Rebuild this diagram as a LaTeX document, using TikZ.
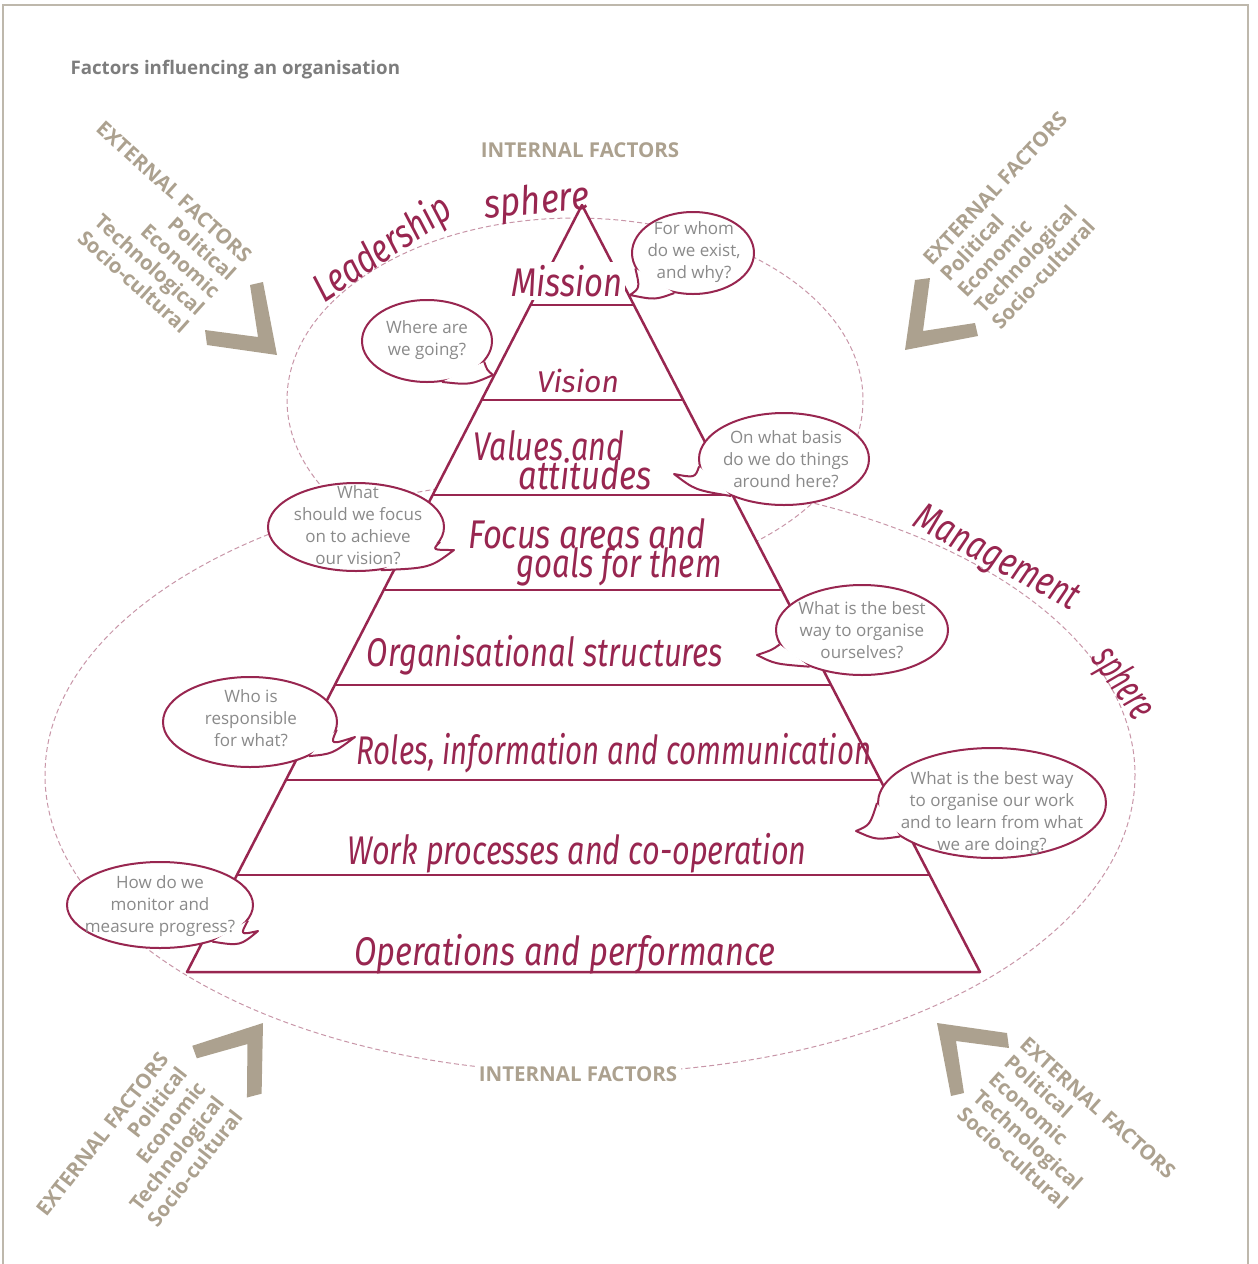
\documentclass[tikz,border=0pt]{standalone}
\usepackage{fontspec}
\setmainfont{Open Sans}
\newfontfamily\handfont{Fira Sans}
\usetikzlibrary{calc, shapes.geometric}

\definecolor{wine}{RGB}{152,38,80}
\definecolor{sand}{RGB}{172,161,143}
\definecolor{qgray}{RGB}{138,138,138}
\definecolor{titlegray}{RGB}{125,125,125}
\definecolor{framegray}{RGB}{190,184,172}
\definecolor{spherepink}{RGB}{200,150,168}

\tikzset{
  chevron/.pic={
    \fill[sand] (0,0) -- (-14,-73) -- (-27,-70) -- (-19,-18) -- (-72,-25) -- (-70,-10) -- cycle;
  }
}

\begin{document}
\begin{tikzpicture}[x=1pt, y=-1pt,
    hand/.style={text=wine, font=\handfont\itshape\fontsize{40}{42}\selectfont, inner sep=1pt},
    question/.style={text=qgray, font=\fontsize{17}{22}\selectfont, align=center, inner sep=0pt},
    bubble/.style={ellipse, draw=wine, line width=2pt, fill=white, inner sep=0pt},
    tail/.style={draw=wine, line width=2pt, line join=round},
    extern/.style={text=sand, font=\bfseries\fontsize{20.5}{23.5}\selectfont, inner sep=0pt},
    spherering/.style={spherepink, line width=1pt, dash pattern=on 5pt off 3pt},
    tier/.style={wine, line width=2.5pt}]

  \useasboundingbox (0,0) rectangle (1258,1264);
  \draw[framegray, line width=1.2pt] (3,1264) -- (3,5) -- (1248,5) -- (1248,1264);

  \node[anchor=west, text=titlegray, font=\bfseries\fontsize{18.7}{22}\selectfont] (title) at (67,70) {Factors influencing an organisation};

  % the two spheres
  \draw[spherering] (575,400) ellipse [x radius=288, y radius=182];
  \draw[spherering] (590,775) ellipse [x radius=545, y radius=298];

  % pyramid
  \coordinate (apex) at (582,205);
  \coordinate (baseL) at (187,972);
  \coordinate (baseR) at (980,972);
  \filldraw[fill=white, draw=wine, line width=2.5pt, line join=round] (apex) -- (baseR) -- (baseL) -- cycle;
  \foreach \yy in {305,400,495,590,685,780,875}
    \draw[tier] ($(apex)!{(\yy-205)/767}!(baseL)$) -- ($(apex)!{(\yy-205)/767}!(baseR)$);

  \node[hand, fill=white, inner sep=3pt, xscale=0.82] (mission) at (567,281) {Mission};
  \node[hand, font=\handfont\itshape\fontsize{30}{32}\selectfont] (vision) at (578,381) {Vision};
  \node[hand, xscale=0.765] (values) at (549,446) {Values and};
  \node[hand, xscale=0.82] (attitudes) at (585,474) {attitudes};
  \node[hand, xscale=0.82] (focus) at (587,534) {Focus areas and};
  \node[hand, xscale=0.78] (goals) at (619,567) {goals for them};
  \node[hand, xscale=0.775] (struct) at (545,655) {Organisational structures};
  \node[hand, xscale=0.735] (roles) at (614,753) {Roles, information and communication};
  \node[hand, xscale=0.765] (work) at (577,853) {Work processes and co-operation};
  \node[hand, xscale=0.815] (oper) at (565,954) {Operations and performance};

  \node[hand, rotate=34, xscale=0.8] (leader) at (383,250) {Leadership};
  \node[hand, rotate=5, xscale=0.87] (lsphere) at (537,203) {sphere};
  \node[hand, rotate=-28, xscale=0.77] (manage) at (996,560) {Management};
  \node[hand, rotate=-55, xscale=0.62, font=\handfont\itshape\fontsize{42}{44}\selectfont] (msphere) at (1122,684) {sphere};

  % speech bubbles
  \node[bubble, minimum width=122, minimum height=82] (whom) at (693,253) {};
  \fill[white] (whom.195) .. controls (640,288) .. (630,295) .. controls (655,300) .. (whom.245) -- cycle;
  \draw[tail] (whom.195) .. controls (640,288) .. (630,295) .. controls (655,300) .. (whom.245);
  \node[question] (whomq) at (694,252) {For whom\\do we exist,\\and why?};

  \node[bubble, minimum width=130, minimum height=82] (going) at (427,341) {};
  \fill[white] (going.-20) .. controls (487,370) .. (493,375) .. controls (470,385) .. (going.-70) -- cycle;
  \draw[tail] (going.-20) .. controls (487,370) .. (493,375) .. controls (470,385) .. (going.-70);
  \node[question] (goingq) at (427,340) {Where are\\we going?};

  \node[bubble, minimum width=170, minimum height=92] (basis) at (784,459) {};
  \fill[white] (basis.185) .. controls (695,478) .. (674,474) .. controls (695,490) .. (basis.215) -- cycle;
  \draw[tail] (basis.185) .. controls (695,478) .. (674,474) .. controls (695,490) .. (basis.215);
  \node[question] (basisq) at (786,459) {On what basis\\do we do things\\around here?};

  \node[bubble, minimum width=176, minimum height=88] (focusb) at (356,527) {};
  \fill[white] (focusb.-10) .. controls (432,550) .. (454,550) .. controls (430,568) .. (focusb.-60) -- cycle;
  \draw[tail] (focusb.-10) .. controls (432,550) .. (454,550) .. controls (430,568) .. (focusb.-60);
  \node[question] (focusq) at (358,525) {What\\should we focus\\on to achieve\\our vision?};

  \node[bubble, minimum width=172, minimum height=90] (organise) at (862,630) {};
  \fill[white] (organise.190) .. controls (772,650) .. (757,655) .. controls (775,664) .. (organise.215) -- cycle;
  \draw[tail] (organise.190) .. controls (772,650) .. (757,655) .. controls (775,664) .. (organise.215);
  \node[question] (organiseq) at (862,630) {What is the best\\way to organise\\ourselves?};

  \node[bubble, minimum width=174, minimum height=90] (resp) at (250,722) {};
  \fill[white] (resp.-5) .. controls (330,745) .. (355,737) .. controls (332,754) .. (resp.-30) -- cycle;
  \draw[tail] (resp.-5) .. controls (330,745) .. (355,737) .. controls (332,754) .. (resp.-30);
  \node[question] (respq) at (251,718) {Who is\\responsible\\for what?};

  \node[bubble, minimum width=228, minimum height=110] (learn) at (992,803) {};
  \fill[white] (learn.180) .. controls (870,825) .. (856,831) .. controls (876,840) .. (learn.200) -- cycle;
  \draw[tail] (learn.180) .. controls (870,825) .. (856,831) .. controls (876,840) .. (learn.200);
  \node[question] (learnq) at (992,813) {What is the best way\\to organise our work\\and to learn from what\\we are doing?};

  \node[bubble, minimum width=186, minimum height=86] (progress) at (160,905) {};
  \fill[white] (progress.-10) .. controls (240,935) .. (258,931) .. controls (240,946) .. (progress.-35) -- cycle;
  \draw[tail] (progress.-10) .. controls (240,935) .. (258,931) .. controls (240,946) .. (progress.-35);
  \node[question] (progressq) at (160,906) {How do we\\monitor and\\measure progress?};

  % internal and external factors
  \node[extern] (intop) at (580,150) {INTERNAL FACTORS};
  \node[extern, fill=white, inner sep=4pt] (inbottom) at (578,1074) {INTERNAL FACTORS};

  \pic at (277,355) {chevron};
  \pic[rotate=-90] at (905,350) {chevron};
  \pic[rotate=97] at (263,1023) {chevron};
  \pic[rotate=180] at (937,1023) {chevron};

  \node[extern, align=right, rotate=-42, anchor=east] (extTL) at (217,294) {EXTERNAL FACTORS\\Political\\Economic\\Technological\\Socio-cultural};
  \node[extern, align=left, rotate=47, anchor=west] (extTR) at (961,294) {EXTERNAL FACTORS\\Political\\Economic\\Technological\\Socio-cultural};
  \node[extern, align=right, rotate=52, anchor=east] (extBL) at (201,1084) {EXTERNAL FACTORS\\Political\\Economic\\Technological\\Socio-cultural};
  \node[extern, align=left, rotate=-42, anchor=west] (extBR) at (992,1076) {EXTERNAL FACTORS\\Political\\Economic\\Technological\\Socio-cultural};
\end{tikzpicture}
\end{document}
